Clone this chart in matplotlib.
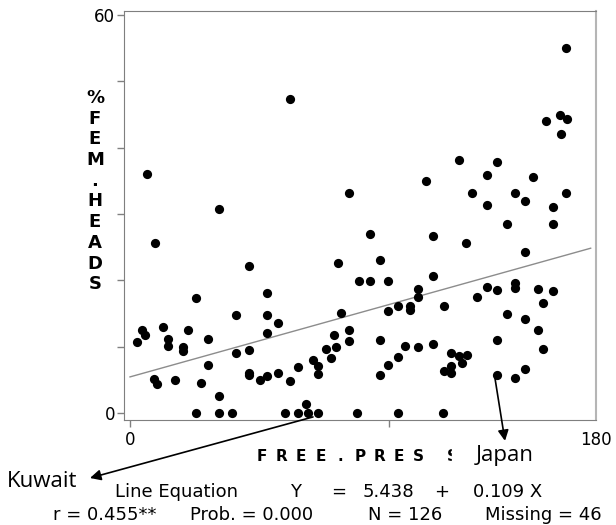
from matplotlib import pyplot as plt
from matplotlib.patches import Rectangle

# scatter data: FREE.PRESS (x) vs % FEM. HEADS (y)
free_press = [6.7, 61.9, 84.5, 168.6, 166.3, 168.9, 160.6, 166.4, 127.0, 141.8,
              137.8, 155.6, 114.3, 132.1, 148.8, 168.5, 152.6, 34.3, 9.7, 92.7,
              46.1, 80.5, 88.5, 92.7, 25.5, 53.1, 41.1, 53.1, 81.6, 57.1,
              4.8, 5.7, 2.6, 12.6, 14.6, 14.6, 22.4, 20.4, 20.4, 30.3,
              53.1, 84.6, 84.6, 78.9, 75.9, 79.7, 77.7, 41.1, 46.1, 30.3,
              70.8, 72.8, 72.8, 64.9, 9.4, 10.5, 17.5, 27.4, 46.1, 46.1,
              50.1, 53.1, 57.1, 61.9, 34.3, 68.0,
              25.5, 34.2, 39.3, 60.0, 65.0, 68.9, 72.8, 87.6, 103.7, 121.1,
              137.8, 163.6, 145.8, 163.6, 117.2, 129.9, 152.6, 96.6, 99.6, 117.2,
              111.4, 111.4, 137.8, 141.9, 148.8, 148.8, 157.8, 163.6, 134.0, 159.6,
              103.4, 108.3, 108.3, 99.6, 121.3, 145.8, 152.6, 157.8, 96.6, 141.9,
              159.6, 106.4, 111.4, 117.2, 103.4, 99.6, 96.6, 124.0, 127.2, 130.1,
              128.2, 121.3, 124.0, 124.0, 141.9, 148.8, 152.6]
fem_heads = [36.0, 47.3, 33.2, 55.0, 45.0, 44.3, 44.0, 42.0, 38.1, 37.8,
             35.9, 35.6, 35.0, 33.2, 33.2, 33.2, 32.0, 30.8, 25.6, 27.0,
             22.1, 22.6, 19.9, 19.9, 17.4, 18.1, 14.7, 14.7, 15.0, 13.5,
             12.5, 11.7, 10.7, 12.9, 11.1, 10.1, 12.5, 10.0, 9.3, 11.1,
             12.0, 12.5, 10.9, 11.7, 9.6, 10.0, 8.3, 9.0, 9.5, 7.3,
             8.0, 7.1, 5.9, 7.0, 5.1, 4.4, 5.0, 4.5, 6.1, 5.7,
             4.9, 5.6, 6.1, 4.8, 2.6, 1.4,
             0, 0, 0, 0, 0, 0, 0, 0, 0, 0,
             31.3, 31.0, 28.5, 28.5, 26.7, 25.6, 24.2, 23.1, 19.9, 20.7,
             18.7, 17.5, 19.0, 18.6, 19.6, 18.9, 18.7, 18.4, 17.5, 16.6,
             16.1, 16.1, 15.5, 15.4, 16.2, 14.9, 14.2, 12.5, 11.0, 11.0,
             9.6, 10.1, 10.0, 10.4, 8.5, 7.2, 5.7, 9.0, 8.6, 8.7,
             7.6, 6.4, 7.1, 6.0, 5.7, 5.2, 6.6]

# fitted line Y = a + b X
intercept = 5.438
slope = 0.109
x_fit = [0, 178]

kuwait = (70.7, -0.6)
japan = (141.0, 5.3)

ylabel_chars = list('%FEM.HEADS')
xlabel_chars = list('FREE.PRESS')

W, H = 616, 525
fig = plt.figure(figsize=(W / 100, H / 100), dpi=100)
ax = fig.add_axes([124 / W, 1 - 420 / H, 472 / W, 408.7 / H])

ax.scatter(free_press, fem_heads, s=44, color='black', linewidths=0, zorder=3)
ax.plot(x_fit, [intercept + slope * v for v in x_fit], color='#8c8c8c', lw=1)

ax.set_xlim(-2.32, 180.06)
ax.set_ylim(-1.06, 60.56)
ax.set_yticks([0, 10, 20, 30, 40, 50, 60])
ax.set_yticklabels(['0', '', '', '', '', '', '60'])
ax.set_xticks([0, 100, 180])
ax.set_xticklabels(['0', '', '180'])
ax.xaxis.get_major_ticks()[2].tick1line.set_visible(False)
ax.tick_params(axis='both', colors='#808080', labelcolor='black', labelsize=12,
               length=5, width=1)
ax.tick_params(axis='y', pad=1.5)
ax.tick_params(axis='x', pad=3)
for side in ['left', 'bottom', 'top']:
    ax.spines[side].set_color('#7f7f7f')
ax.spines['right'].set_color('#b5b5b5')
ax.spines['right'].set_linewidth(1.5)


def fx(px):
    return px / W


def fy(py):
    return 1 - py / H


# stacked y label
for i, ch in enumerate(ylabel_chars):
    fig.text(fx(95), fy(103 + 20.7 * i), ch, ha='center', va='baseline',
             fontsize=13, fontweight='bold')

# spaced x label, last letter half hidden behind the Japan label
for i, ch in enumerate(xlabel_chars[:-1]):
    fig.text(fx(262 + 19.6 * i), fy(461), ch, ha='center', va='baseline',
             fontsize=11, fontweight='bold')
fig.text(fx(452), fy(461), xlabel_chars[-1], ha='center', va='baseline',
         fontsize=11, fontweight='bold')
fig.add_artist(Rectangle((fx(452), fy(470)), (548 - 452) / W, 30 / H,
                         transform=fig.transFigure, color='white', zorder=5))

fig.text(fx(476), fy(461), 'Japan', ha='left', va='baseline', fontsize=16,
         family='Open Sans', zorder=6)
fig.text(fx(7), fy(487), 'Kuwait', ha='left', va='baseline', fontsize=16,
         family='Open Sans')

arrow = dict(arrowstyle='-|>', color='black', lw=1.2, mutation_scale=16,
             shrinkA=0, shrinkB=0)
ax.annotate('', xy=(fx(90), fy(478)), xycoords='figure fraction',
            xytext=kuwait, textcoords='data', arrowprops=arrow,
            annotation_clip=False)
ax.annotate('', xy=(fx(505), fy(441)), xycoords='figure fraction',
            xytext=japan, textcoords='data', arrowprops=arrow,
            annotation_clip=False)

# statistics block
line1 = [(115, 'Line Equation'), (290, 'Y'), (331, '='), (363, '5.438'),
         (434, '+'), (473, '0.109 X')]
line2 = [(53, 'r = 0.455**'), (190, 'Prob. = 0.000'), (368, 'N = 126'),
         (485, 'Missing = 46')]
for px, s in line1:
    fig.text(fx(px), fy(497), s, ha='left', va='baseline', fontsize=13)
for px, s in line2:
    fig.text(fx(px), fy(520), s, ha='left', va='baseline', fontsize=13)

fig.savefig('out.png', dpi=100)
